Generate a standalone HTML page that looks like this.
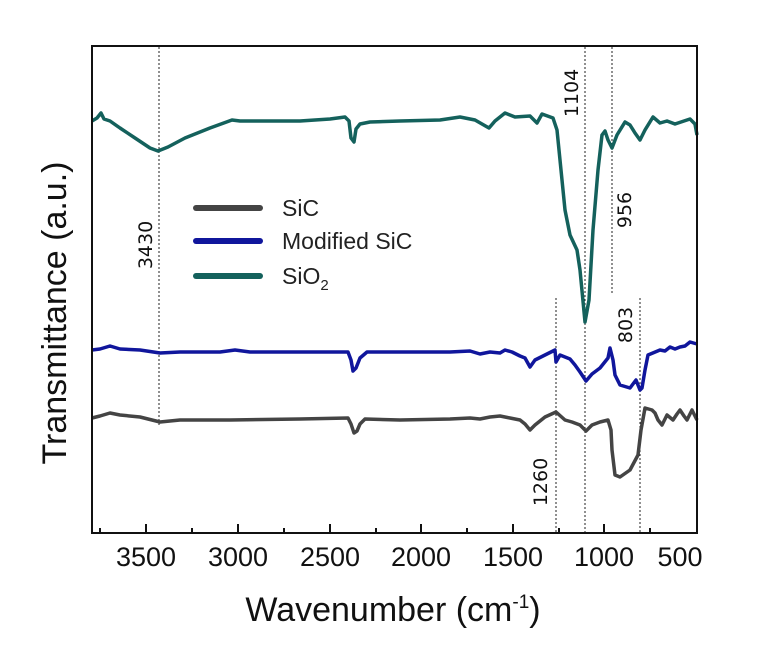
<!DOCTYPE html>
<html><head><meta charset="utf-8"><style>
body{margin:0;background:#fff;}
svg{display:block;font-family:"Liberation Sans",sans-serif;}
</style></head><body>
<svg width="766" height="669" viewBox="0 0 766 669" xmlns="http://www.w3.org/2000/svg">
<rect width="766" height="669" fill="#fff"/>
<g stroke="#222" stroke-width="1" stroke-dasharray="2,2" fill="none">
<line x1="159" y1="47" x2="159" y2="425"/>
<line x1="585" y1="47" x2="585" y2="533"/>
<line x1="612" y1="47" x2="612" y2="295"/>
<line x1="556" y1="298" x2="556" y2="533"/>
<line x1="640" y1="298" x2="640" y2="533"/>
</g>
<polyline fill="none" stroke="#14615c" stroke-width="3.5" stroke-linejoin="round" points="92,121 97,118 101,113 104,119 110,121 120,128 135,138 150,148 158,151 168,147 185,138 210,128 232,120 240,121 260,121 300,121 330,119 345,117 349,121 351,138 354,142 356,129 360,124 370,122 400,121 440,120 460,117 475,120 482,124 489,128 495,121 505,113 515,117 530,116 537,123 542,114 553,118 557,130 560,160 565,210 570,235 577,250 580,270 585,322 589,300 593,230 598,170 602,135 605,131 608,140 612,148 617,135 625,122 630,125 635,133 640,140 645,130 653,117 660,123 667,121 675,124 690,119 695,124 697,135"/>
<polyline fill="none" stroke="#10169c" stroke-width="3.5" stroke-linejoin="round" points="92,350 100,349 110,346 120,349 140,350 160,353 180,352 220,352 235,350 250,352 300,352 348,352 351,360 353,371 356,368 360,358 367,352 400,352 450,352 470,351 480,354 490,352 500,353 505,350 512,352 520,356 525,358 530,367 535,360 545,355 555,350 556,362 560,355 570,359 575,365 580,372 586,381 592,374 600,368 608,358 610,348 613,360 615,375 620,385 630,388 636,380 640,390 642,388 645,370 648,355 660,350 665,351 670,347 675,349 680,347 685,346 690,342 697,344"/>
<polyline fill="none" stroke="#444" stroke-width="3.5" stroke-linejoin="round" points="92,418 100,416 110,413 120,415 140,417 160,422 180,420 230,420 300,419 348,418 351,424 354,433 357,431 360,424 365,419 400,420 450,419 470,418 480,419 490,417 500,416 510,418 520,420 525,424 530,430 535,425 545,417 556,412 565,420 572,422 580,425 586,431 592,425 600,422 608,420 611,430 612,450 615,475 620,477 630,470 638,455 641,430 645,408 652,410 655,413 658,420 662,425 667,415 673,420 677,414 680,410 684,416 687,420 692,410 697,420"/>
<rect x="92" y="46" width="605" height="487" fill="none" stroke="#111" stroke-width="2"/>
<g stroke="#111" stroke-width="2">
<line x1="146" y1="533" x2="146" y2="524"/><line x1="238" y1="533" x2="238" y2="524"/>
<line x1="330" y1="533" x2="330" y2="524"/><line x1="421" y1="533" x2="421" y2="524"/>
<line x1="513" y1="533" x2="513" y2="524"/><line x1="604" y1="533" x2="604" y2="524"/>
<line x1="100" y1="533" x2="100" y2="528"/><line x1="192" y1="533" x2="192" y2="528"/>
<line x1="284" y1="533" x2="284" y2="528"/><line x1="376" y1="533" x2="376" y2="528"/>
<line x1="467" y1="533" x2="467" y2="528"/><line x1="559" y1="533" x2="559" y2="528"/>
<line x1="650" y1="533" x2="650" y2="528"/>
</g>
<g font-size="27" fill="#111" text-anchor="middle">
<text x="146" y="566">3500</text><text x="238" y="566">3000</text><text x="330" y="566">2500</text>
<text x="421" y="566">2000</text><text x="513" y="566">1500</text><text x="604" y="566">1000</text>
<text x="680" y="566">500</text>
</g>
<text x="393" y="621" font-size="34" text-anchor="middle" fill="#111">Wavenumber (cm<tspan font-size="19" dy="-13">-1</tspan><tspan dy="13">)</tspan></text>
<text transform="translate(66,313) rotate(-90)" font-size="34" text-anchor="middle" fill="#111">Transmittance (a.u.)</text>
<g font-size="19" font-family="DejaVu Sans, sans-serif" fill="#111" text-anchor="middle">
<text transform="translate(152,245) rotate(-90)">3430</text>
<text transform="translate(578,93) rotate(-90)">1104</text>
<text transform="translate(631,210) rotate(-90)">956</text>
<text transform="translate(632,325) rotate(-90)">803</text>
<text transform="translate(547,482) rotate(-90)">1260</text>
</g>
<g stroke-width="6" stroke-linecap="round">
<line x1="196" y1="208" x2="260" y2="208" stroke="#444"/>
<line x1="196" y1="241" x2="260" y2="241" stroke="#10169c"/>
<line x1="196" y1="276" x2="260" y2="276" stroke="#14615c"/>
</g>
<g font-size="23" fill="#222">
<text x="282" y="216">SiC</text>
<text x="282" y="249">Modified SiC</text>
<text x="282" y="284">SiO<tspan font-size="15" dy="6">2</tspan></text>
</g>
</svg>
</body></html>
